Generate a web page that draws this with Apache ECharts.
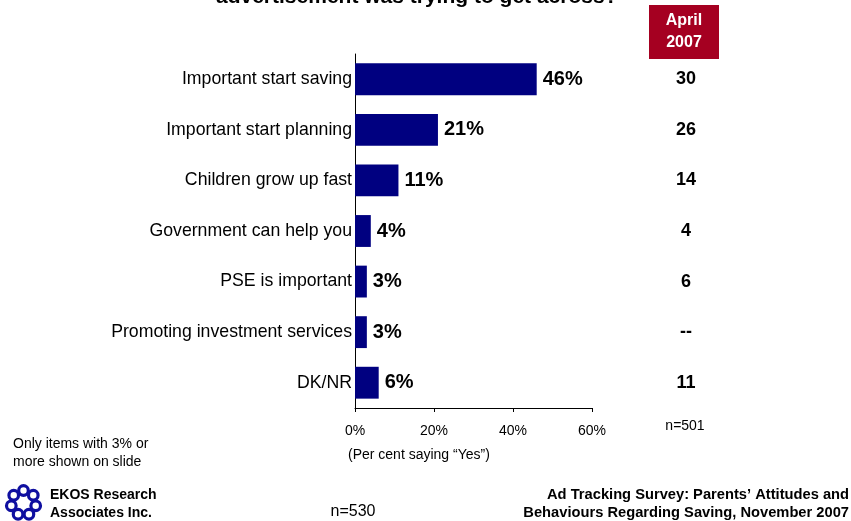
<!DOCTYPE html>
<html>
<head>
<meta charset="utf-8">
<script src="https://cdn.jsdelivr.net/npm/echarts@6/dist/echarts.min.js"></script>
<style>
  html, body { margin: 0; padding: 0; background: #fff; }
  #chart { width: 851px; height: 521px; }
</style>
</head>
<body>
<div id="chart"></div>
<script>
// Main message recalled from the advertisement
const categories = [
  'Important start saving',
  'Important start planning',
  'Children grow up fast',
  'Government can help you',
  'PSE is important',
  'Promoting investment services',
  'DK/NR'
];
const nov2007 = [46, 21, 11, 4, 3, 3, 6];
const april2007 = ['30', '26', '14', '4', '6', '--', '11'];
const xTicks = [0, 20, 40, 60];

const FONT = '"Liberation Sans", Arial, sans-serif';
const chart = echarts.init(document.getElementById('chart'), null, { renderer: 'canvas' });

// small swirl-ring emblem beside the company name
const logoParts = [];
for (let i = 0; i < 7; i++) {
  const a = (i / 7) * Math.PI * 2 - Math.PI / 2;
  logoParts.push({
    type: 'circle',
    shape: { cx: 23.5 + Math.cos(a) * 12.5, cy: 503 + Math.sin(a) * 12.5, r: 4.8 },
    style: { fill: 'none', stroke: '#0f0fa0', lineWidth: 3.2 }
  });
}

chart.setOption({
  animation: false,
  backgroundColor: '#fff',
  grid: { left: 355, right: 259, top: 54, bottom: 113, containLabel: false },
  xAxis: {
    type: 'value',
    min: xTicks[0],
    max: xTicks[xTicks.length - 1],
    interval: 20,
    splitLine: { show: false },
    axisLine: { show: true, lineStyle: { color: '#000', width: 1 } },
    axisTick: { show: true, length: 4, lineStyle: { color: '#000' } },
    axisLabel: { formatter: '{value}%', color: '#000', fontFamily: FONT, fontSize: 14, margin: 16 }
  },
  yAxis: [
    {
      type: 'category',
      data: categories,
      inverse: true,
      axisLine: { show: true, lineStyle: { color: '#000', width: 1 } },
      axisTick: { show: false },
      axisLabel: { color: '#000', fontFamily: FONT, fontSize: 17.7, margin: 3 }
    },
    {
      type: 'category',
      data: april2007,
      inverse: true,
      position: 'right',
      axisLine: { show: false },
      axisTick: { show: false },
      axisLabel: { color: '#000', fontFamily: FONT, fontSize: 18, fontWeight: 'bold', align: 'center', margin: 94 }
    }
  ],
  series: [{
    type: 'bar',
    data: nov2007,
    barCategoryGap: '37%',
    itemStyle: { color: '#000080' },
    label: {
      show: true,
      position: 'right',
      distance: 6,
      formatter: '{c}%',
      color: '#000',
      fontFamily: FONT,
      fontSize: 20,
      fontWeight: 'bold'
    }
  }],
  graphic: [
    {
      type: 'text', left: 216, top: -13,
      style: { text: 'advertisement was trying to get across?', font: 'bold 21px ' + FONT, fill: '#000' }
    },
    { type: 'rect', shape: { x: 649, y: 5, width: 70, height: 54 }, style: { fill: '#A50021' } },
    {
      type: 'text', x: 684, y: 32,
      style: { text: 'April\n2007', font: 'bold 16px ' + FONT, fill: '#fff', align: 'center', verticalAlign: 'middle', lineHeight: 22 }
    },
    {
      type: 'text', x: 685, y: 426,
      style: { text: 'n=501', font: '14px ' + FONT, fill: '#000', align: 'center', verticalAlign: 'middle' }
    },
    {
      type: 'text', x: 348, y: 455,
      style: { text: '(Per cent saying \u201CYes\u201D)', font: '14px ' + FONT, fill: '#000', verticalAlign: 'middle' }
    },
    {
      type: 'text', x: 13, y: 453,
      style: { text: 'Only items with 3% or\nmore shown on slide', font: '14px ' + FONT, fill: '#000', verticalAlign: 'middle', lineHeight: 18 }
    },
    {
      type: 'text', x: 50, y: 504,
      style: { text: 'EKOS Research\nAssociates Inc.', font: 'bold 14px ' + FONT, fill: '#000', verticalAlign: 'middle', lineHeight: 18 }
    },
    {
      type: 'text', x: 353, y: 512,
      style: { text: 'n=530', font: '16px ' + FONT, fill: '#000', align: 'center', verticalAlign: 'middle' }
    },
    {
      type: 'text', x: 849, y: 504,
      style: { text: 'Ad Tracking Survey: Parents\u2019 Attitudes and\nBehaviours Regarding Saving, November 2007', font: 'bold 14.7px ' + FONT, fill: '#000', align: 'right', verticalAlign: 'middle', lineHeight: 18 }
    }
  ].concat(logoParts)
});
</script>
</body>
</html>
